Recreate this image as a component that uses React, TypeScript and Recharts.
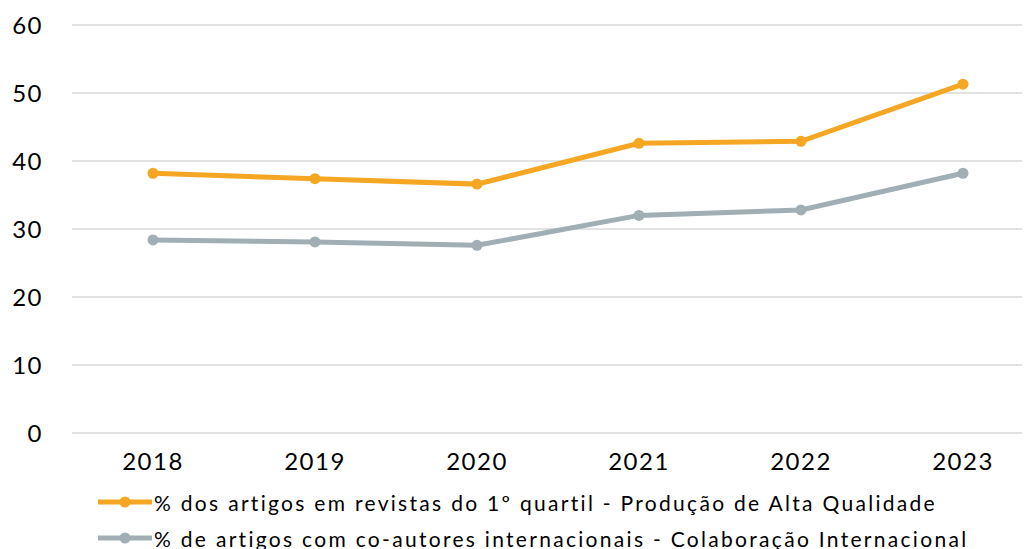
import { LineChart, Line, XAxis, YAxis, CartesianGrid, Legend } from "recharts";

const years = ["2018", "2019", "2020", "2021", "2022", "2023"];
const altaQualidade = [38.2, 37.4, 36.6, 42.6, 42.9, 51.3];
const colabInternacional = [28.4, 28.1, 27.6, 32.0, 32.8, 38.2];
const yTicks = [0, 10, 20, 30, 40, 50, 60];

const SERIES = [
  { key: "alta", name: "% dos artigos em revistas do 1º quartil - Produção de Alta Qualidade", color: "#F5A623" },
  { key: "colab", name: "% de artigos com co-autores internacionais - Colaboração Internacional", color: "#A1AFB4" },
];

const data = years.map((y, i) => ({
  year: y,
  alta: altaQualidade[i],
  colab: colabInternacional[i],
}));

const FONT = "Lato, 'Open Sans', sans-serif";

function LegendBox() {
  return (
    <div style={{ paddingLeft: 90, fontFamily: FONT, fontSize: 21, color: "#000" }}>
      {SERIES.map((s) => (
        <div key={s.key} style={{ display: "flex", alignItems: "center", height: 36, letterSpacing: 2.3, whiteSpace: "nowrap" }}>
          <svg width={54} height={12} style={{ marginRight: 2, flexShrink: 0 }}>
            <line x1={0} y1={6} x2={54} y2={6} stroke={s.color} strokeWidth={5} />
            <circle cx={27} cy={6} r={5.5} fill={s.color} />
          </svg>
          <span>{s.name}</span>
        </div>
      ))}
    </div>
  );
}

export default function App() {
  return (
    <div style={{ width: 1022, height: 541, overflow: "hidden", background: "#fff" }}>
      <LineChart
        width={1036}
        height={541}
        data={data}
        margin={{ top: 17, right: 0, left: 0, bottom: 0 }}
      >
        <CartesianGrid vertical={false} stroke="#d9d9d9" strokeWidth={1.5} />
        <XAxis
          dataKey="year"
          axisLine={false}
          tickLine={false}
          tickSize={0}
          tickMargin={20}
          height={44}
          padding={{ left: 81, right: 81 }}
          tick={{ fill: "#000", fontSize: 24, fontFamily: FONT, letterSpacing: 1.5 }}
        />
        <YAxis
          domain={[0, 60]}
          ticks={yTicks}
          width={64}
          axisLine={false}
          tickLine={false}
          tickSize={0}
          tickMargin={29}
          tick={{ fill: "#000", fontSize: 24, fontFamily: FONT, letterSpacing: 1.5 }}
        />
        <Legend
          verticalAlign="bottom"
          align="left"
          wrapperStyle={{ bottom: -7 }}
          content={() => <LegendBox />}
        />
        {SERIES.map((s) => (
          <Line
            key={s.key}
            dataKey={s.key}
            name={s.name}
            stroke={s.color}
            strokeWidth={5}
            dot={{ r: 5.5, fill: s.color, stroke: s.color, strokeWidth: 0 }}
            isAnimationActive={false}
          />
        ))}
      </LineChart>
    </div>
  );
}
